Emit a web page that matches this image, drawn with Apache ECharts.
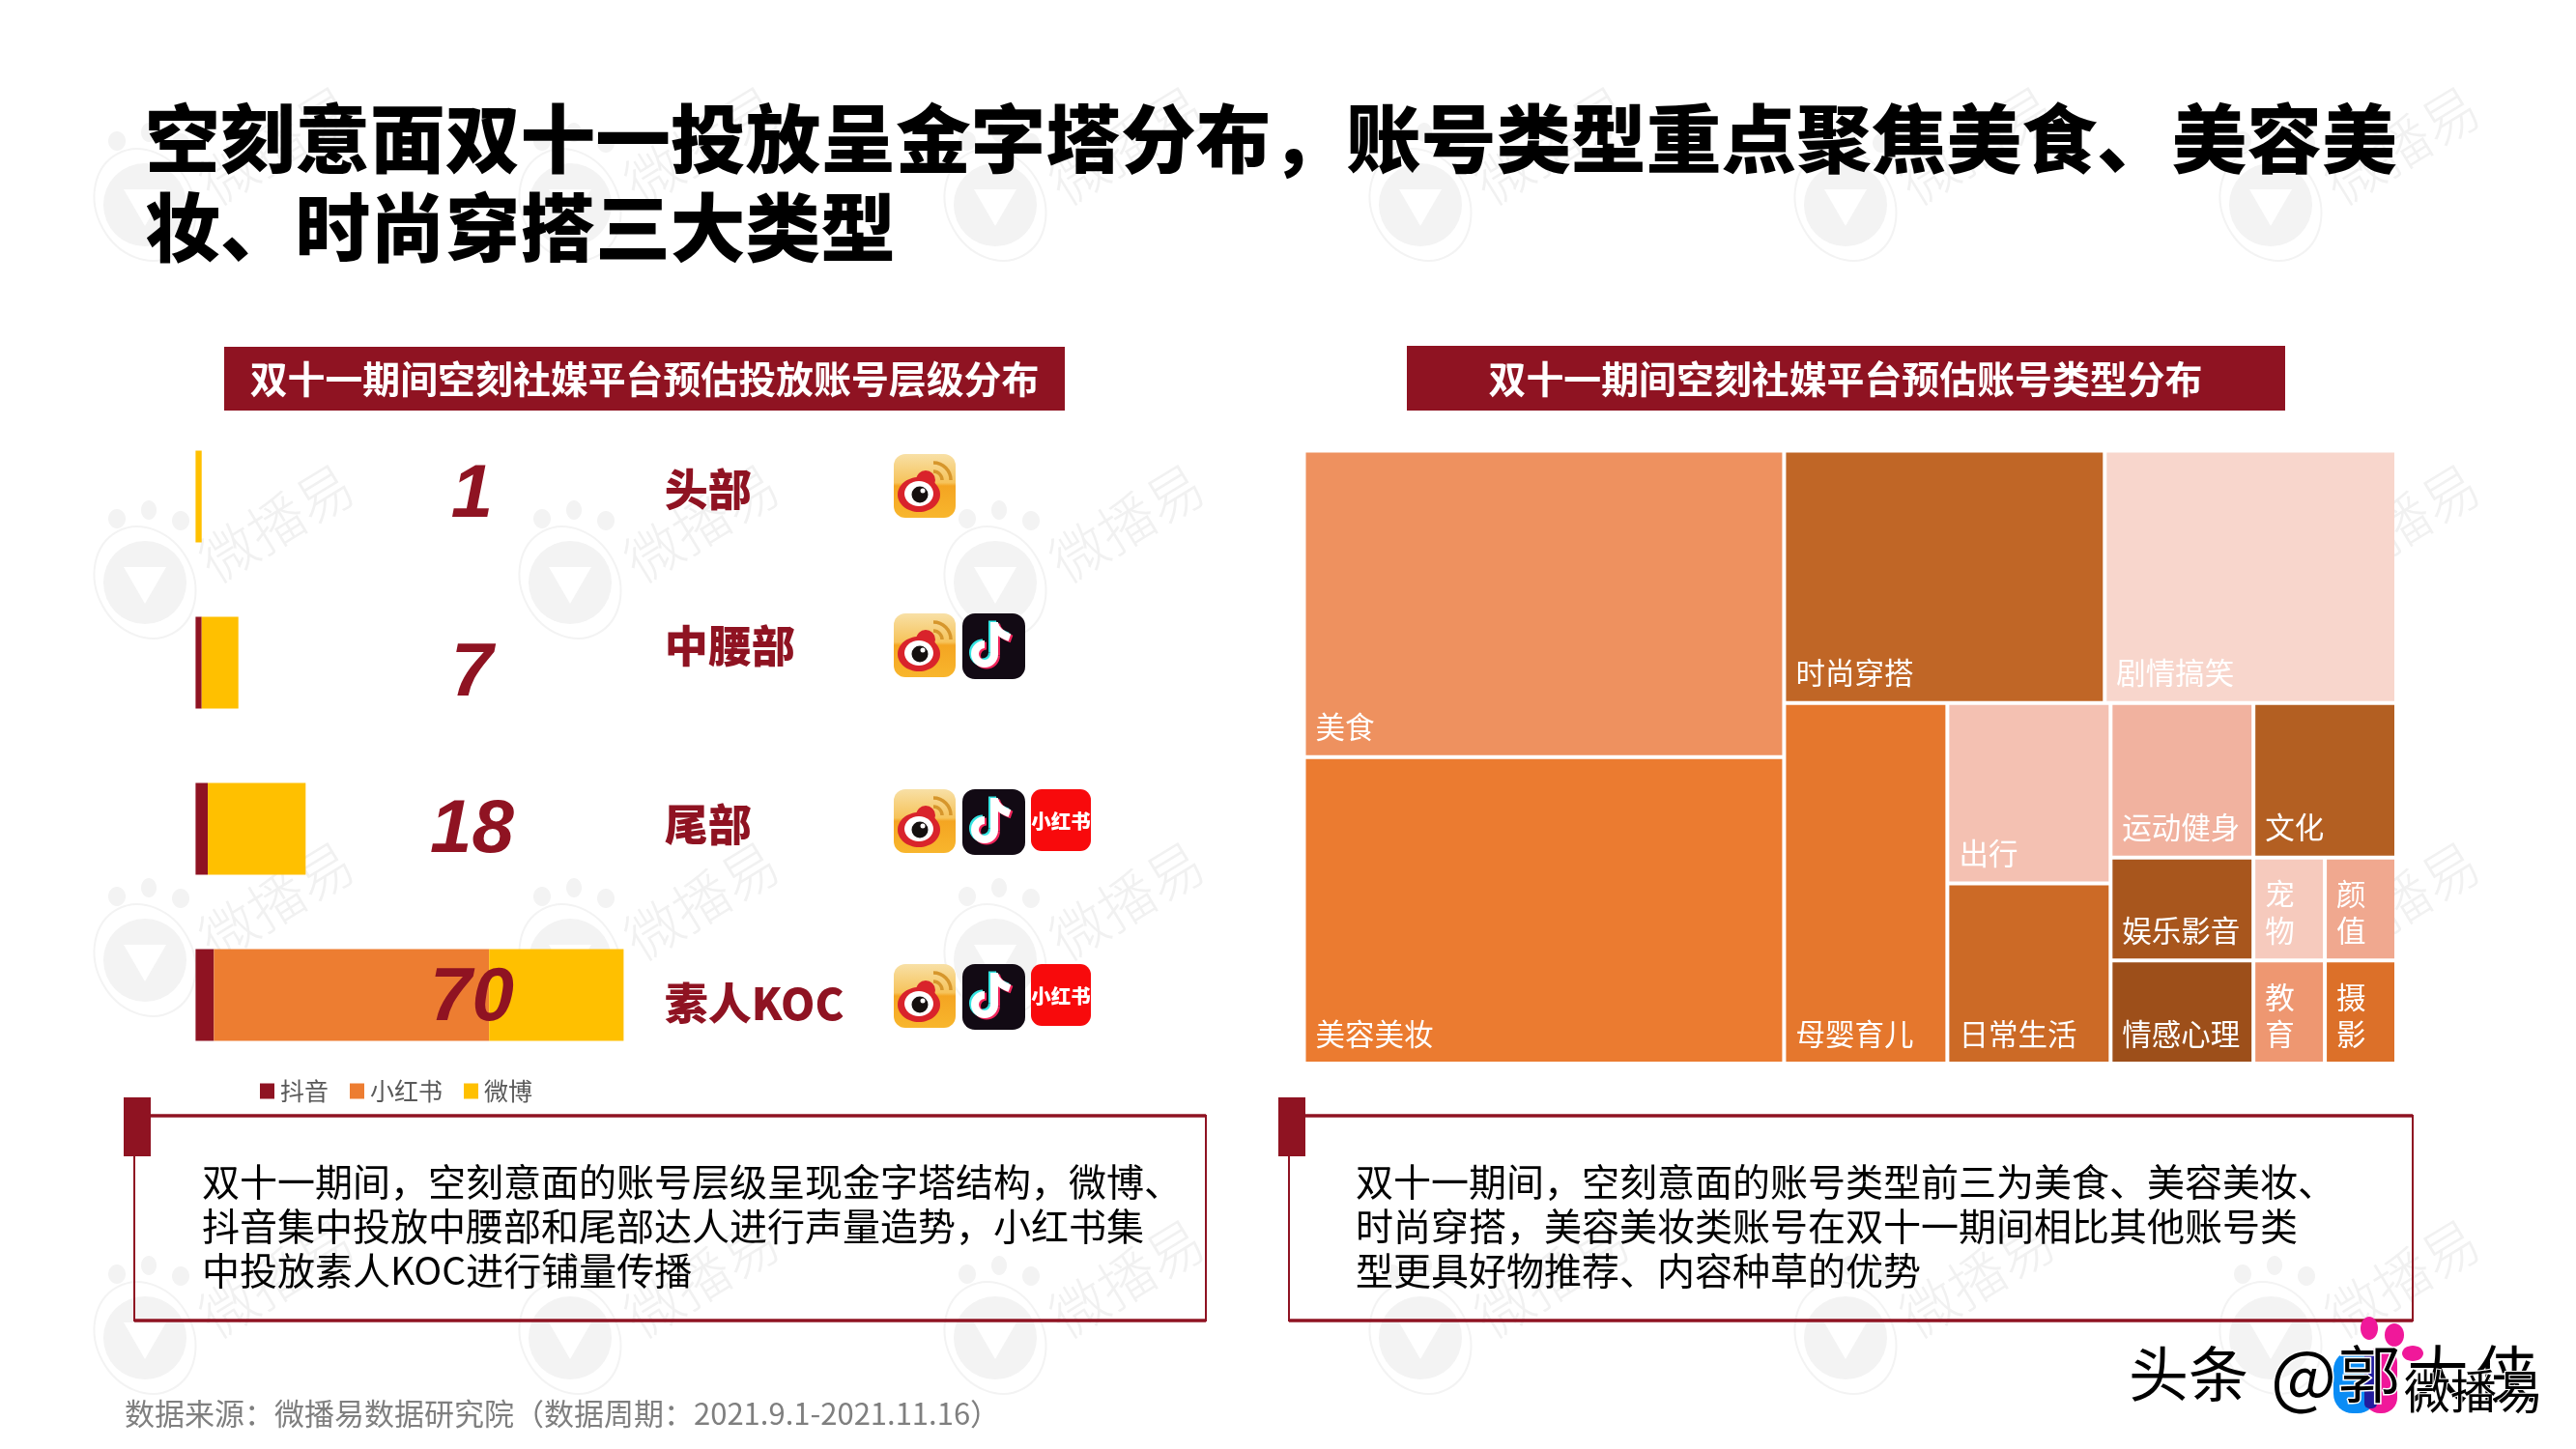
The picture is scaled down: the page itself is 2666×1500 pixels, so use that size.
<!DOCTYPE html>
<html>
<head>
<meta charset="utf-8">
<title>空刻意面双十一投放</title>
<script src="https://cdn.jsdelivr.net/npm/echarts@6/dist/echarts.min.js"></script>
<style>
html,body{margin:0;padding:0;background:#fff;}
#chart{width:2666px;height:1500px;}
</style>
</head>
<body>
<div id="chart"></div>
<script>
// left chart: accounts per tier
const tierNames = ['头部', '中腰部', '尾部', '素人KOC'];
const tierTotals = [1, 7, 18, 70];
const douyinCounts = [0, 1, 2, 3];
const xiaohongshuCounts = [0, 0, 0, 45];
const weiboCounts = [1, 6, 16, 22];
const tierPlatforms = [['weibo'], ['weibo', 'douyin'], ['weibo', 'douyin', 'xhs'], ['weibo', 'douyin', 'xhs']];

// right chart: accounts per type
const typeNames = ['美食', '美容美妆', '时尚穿搭', '剧情搞笑', '母婴育儿', '出行', '日常生活', '运动健身', '文化', '娱乐影音', '情感心理', '宠物', '颜值', '教育', '摄影'];
const typeCounts = [20, 20, 11, 10, 8, 4, 4, 3, 3, 2, 2, 1, 1, 1, 1];
const typeColors = ['#EE915F', '#EB7B30', '#C06626', '#F8D6CC', '#E5772D', '#F4C1B2', '#CC6A26', '#F1B29F', '#B35F22', '#A8561D', '#9D4F1A', '#F6CABD', '#F0A88F', '#EE9771', '#DC7029'];

const DARK_RED = '#8F1322';
const CJK = '"Noto Sans CJK SC", sans-serif';

const chart = echarts.init(document.getElementById('chart'));

function leaf(name) {
    const i = typeNames.indexOf(name);
    return {name: name, value: typeCounts[i], itemStyle: {color: typeColors[i]}};
}
function group() {
    return {name: '', children: Array.prototype.slice.call(arguments)};
}
const typeTree = [
    group(leaf('美食'), leaf('美容美妆')),
    group(
        group(leaf('时尚穿搭'), leaf('剧情搞笑')),
        group(
            leaf('母婴育儿'),
            group(
                group(leaf('出行'), leaf('日常生活')),
                group(
                    group(leaf('运动健身'), leaf('文化')),
                    group(
                        group(leaf('娱乐影音'), leaf('情感心理')),
                        group(
                            group(leaf('宠物'), leaf('颜值')),
                            group(leaf('教育'), leaf('摄影'))
                        )
                    )
                )
            )
        )
    )
];

function text(str, x, y, size, fill, extra) {
    return {
        type: 'text', x: x, y: y,
        style: Object.assign({
            text: str, fontSize: size, fill: fill, fontFamily: CJK,
            align: 'left', verticalAlign: 'middle'
        }, extra || {})
    };
}

function watermark(cx, cy) {
    const c = '#F3F3F3';
    return {
        type: 'group', x: cx, y: cy, children: [
            {type: 'ellipse', shape: {cx: -29, cy: -66, rx: 9, ry: 10}, style: {fill: c}},
            {type: 'ellipse', shape: {cx: 4, cy: -75, rx: 8, ry: 10}, style: {fill: c}},
            {type: 'ellipse', shape: {cx: 37, cy: -64, rx: 9, ry: 10}, style: {fill: c}},
            {type: 'circle', shape: {cx: 0, cy: 0, r: 43}, style: {fill: c}},
            {type: 'ellipse', shape: {cx: 0, cy: 0, rx: 50, ry: 60}, rotation: 0.5, style: {fill: 'none', stroke: c, lineWidth: 2}},
            {type: 'polygon', shape: {points: [[-22, -16], [22, -16], [0, 22]]}, style: {fill: '#fff'}},
            {
                type: 'text', x: 136, y: -62, rotation: 0.55,
                style: {text: '微播易', fontSize: 58, fill: '#F1F1F1', fontFamily: CJK, fontWeight: 300, align: 'center', verticalAlign: 'middle'}
            }
        ]
    };
}

function weiboIcon(x, y) {
    return {
        type: 'group', x: x, y: y, children: [
            {
                type: 'rect', shape: {x: 0, y: 0, width: 64, height: 66, r: 12},
                style: {fill: new echarts.graphic.LinearGradient(0, 0, 0, 1, [
                    {offset: 0, color: '#F8E0A6'}, {offset: 0.45, color: '#F6C35A'},
                    {offset: 0.5, color: '#F4A522'}, {offset: 1, color: '#F8B62D'}
                ])}
            },
            {type: 'arc', shape: {cx: 41, cy: 27, r: 9, startAngle: -Math.PI / 2, endAngle: 0}, style: {fill: 'none', stroke: '#D6962C', lineWidth: 3.5}},
            {type: 'arc', shape: {cx: 41, cy: 27, r: 18, startAngle: -Math.PI / 2, endAngle: 0}, style: {fill: 'none', stroke: '#D6962C', lineWidth: 3.5}},
            {type: 'ellipse', shape: {cx: 26, cy: 42, rx: 22, ry: 18}, style: {fill: '#D9232B'}},
            {type: 'circle', shape: {cx: 33, cy: 27, r: 10}, style: {fill: '#D9232B'}},
            {type: 'ellipse', shape: {cx: 26, cy: 41, rx: 15, ry: 13}, style: {fill: '#fff'}},
            {type: 'circle', shape: {cx: 27, cy: 42, r: 8.5}, style: {fill: '#15100F'}},
            {type: 'circle', shape: {cx: 30, cy: 38, r: 2.5}, style: {fill: '#fff'}}
        ]
    };
}

// note glyph built from strokes, one layer per colour
function noteLayer(dx, dy, color) {
    return {
        type: 'group', x: dx, y: dy, children: [
            {type: 'line', shape: {x1: 33, y1: 9, x2: 33, y2: 42}, style: {stroke: color, lineWidth: 8}},
            {type: 'arc', shape: {cx: 23, cy: 42, r: 10, startAngle: -Math.PI / 2, endAngle: 0, clockwise: false}, style: {fill: 'none', stroke: color, lineWidth: 8}},
            {type: 'bezierCurve', shape: {x1: 33, y1: 10, cpx1: 35, cpy1: 20, x2: 49, y2: 25}, style: {fill: 'none', stroke: color, lineWidth: 8}}
        ]
    };
}
function douyinIcon(x, y) {
    return {
        type: 'group', x: x, y: y, children: [
            {type: 'rect', shape: {x: 0, y: 0, width: 65, height: 68, r: 13}, style: {fill: '#120A14'}},
            noteLayer(-2, -1.5, '#35E5E2'),
            noteLayer(2, 1.5, '#F0245A'),
            noteLayer(0, 0, '#FFFFFF')
        ]
    };
}
function xhsIcon(x, y) {
    return {
        type: 'group', x: x, y: y, children: [
            {type: 'rect', shape: {x: 0, y: 0, width: 62, height: 64, r: 11}, style: {fill: '#F80A0C'}},
            {
                type: 'text', x: 31, y: 33,
                style: {text: '小红书', fontSize: 20.5, fontWeight: 900, fill: '#fff', fontFamily: CJK, align: 'center', verticalAlign: 'middle'}
            }
        ]
    };
}

const iconRowTop = [470, 635, 817, 998];
const iconMakers = {weibo: [weiboIcon, 925], douyin: [douyinIcon, 996], xhs: [xhsIcon, 1067]};

const graphics = [];
[212, 603, 994, 1385].forEach(function (wy) {
    [150, 590, 1030, 1470, 1910, 2350].forEach(function (wx) {
        graphics.push(watermark(wx, wy));
    });
});

graphics.push(text('空刻意面双十一投放呈金字塔分布，账号类型重点聚焦美食、美容美', 150, 143, 77.7, '#000', {fontWeight: 900}));
graphics.push(text('妆、时尚穿搭三大类型', 150, 235, 77.7, '#000', {fontWeight: 900}));

graphics.push({type: 'rect', shape: {x: 232, y: 359, width: 870, height: 66}, style: {fill: DARK_RED}});
graphics.push(text('双十一期间空刻社媒平台预估投放账号层级分布', 667, 392, 38.9, '#fff', {fontWeight: 'bold', align: 'center'}));
graphics.push({type: 'rect', shape: {x: 1456, y: 358, width: 909, height: 67}, style: {fill: DARK_RED}});
graphics.push(text('双十一期间空刻社媒平台预估账号类型分布', 1910, 392, 38.9, '#fff', {fontWeight: 'bold', align: 'center'}));

tierPlatforms.forEach(function (platforms, row) {
    platforms.forEach(function (p) {
        const maker = iconMakers[p];
        graphics.push(maker[0](maker[1], iconRowTop[row]));
    });
});

function noteBox(x, w) {
    return [
        {type: 'rect', shape: {x: x, y: 1155, width: w, height: 212}, style: {fill: 'none', stroke: DARK_RED, lineWidth: 2}},
        {type: 'line', shape: {x1: x, y1: 1155, x2: x + w, y2: 1155}, style: {stroke: DARK_RED, lineWidth: 3.5}},
        {type: 'line', shape: {x1: x, y1: 1367, x2: x + w, y2: 1367}, style: {stroke: DARK_RED, lineWidth: 3.5}},
        {type: 'rect', shape: {x: x - 11, y: 1136, width: 28, height: 61}, style: {fill: DARK_RED}}
    ];
}
noteBox(139, 1109).concat(noteBox(1334, 1163)).forEach(function (g) { graphics.push(g); });

const leftNote = ['双十一期间，空刻意面的账号层级呈现金字塔结构，微博、', '抖音集中投放中腰部和尾部达人进行声量造势，小红书集', '中投放素人KOC进行铺量传播'];
const rightNote = ['双十一期间，空刻意面的账号类型前三为美食、美容美妆、', '时尚穿搭，美容美妆类账号在双十一期间相比其他账号类', '型更具好物推荐、内容种草的优势'];
[1223, 1269, 1315].forEach(function (y, i) {
    graphics.push(text(leftNote[i], 209, y, 39, '#000'));
    graphics.push(text(rightNote[i], 1403, y, 39, '#000'));
});

graphics.push(text('数据来源：微播易数据研究院（数据周期：2021.9.1-2021.11.16）', 129, 1463, 31, '#7F7F7F'));

// site stamp, bottom right corner
[[2452, 1375, 9, 12], [2478, 1382, 10, 12], [2497, 1401, 11, 8]].forEach(function (d) {
    graphics.push({type: 'ellipse', shape: {cx: d[0], cy: d[1], rx: d[2], ry: d[3]}, style: {fill: '#F0189A'}});
});
graphics.push({type: 'rect', shape: {x: 2415, y: 1398, width: 45, height: 65, r: 20}, style: {fill: '#0A8CF5'}});
graphics.push({type: 'rect', shape: {x: 2447, y: 1395, width: 34, height: 68, r: 16}, style: {fill: '#F0189A'}});
graphics.push({type: 'rect', shape: {x: 2447, y: 1398, width: 13, height: 60, r: 5}, style: {fill: '#221C9E'}});
const stampInk = {stroke: '#fff', lineWidth: 3};
graphics.push(text('头条', 2203, 1422, 62, '#000', stampInk));
graphics.push(text('@', 2350, 1424, 72, '#000', stampInk));
graphics.push(text('郭', 2420, 1422, 64, '#000', stampInk));
graphics.push(text('大', 2491, 1422, 64, '#000', stampInk));
graphics.push(text('侠', 2562, 1422, 64, '#000', stampInk));
graphics.push(text('微播易', 2488, 1440, 48, '#000', {stroke: '#fff', lineWidth: 2}));

const AXIS_MAX = 70;
const totalLabelAt = 45.2;
const nameLabelAt = 76.6;
const totalOffsets = [-1, 12, 2, 4];
const nameOffsets = [-7, -17, -4, 9];

function barSeries(name, values, color) {
    return {
        name: name, type: 'bar', stack: 'tier', barWidth: 95,
        data: values, itemStyle: {color: color}, silent: true
    };
}

chart.setOption({
    animation: false,
    backgroundColor: '#fff',
    grid: {left: 202.4, top: 428, width: 443, height: 688},
    xAxis: {type: 'value', min: 0, max: AXIS_MAX, show: false},
    yAxis: {type: 'category', inverse: true, data: tierNames, show: false},
    legend: {
        data: ['抖音', '小红书', '微博'],
        left: 264, top: 1112, itemWidth: 15, itemHeight: 16, itemGap: 22,
        icon: 'rect',
        textStyle: {fontSize: 25, color: '#595959', fontFamily: CJK, padding: [0, 0, 0, 1]}
    },
    graphic: {elements: graphics},
    series: [
        barSeries('抖音', douyinCounts, DARK_RED),
        barSeries('小红书', xiaohongshuCounts, '#ED7D31'),
        barSeries('微博', weiboCounts, '#FFC000'),
        {
            type: 'scatter', symbolSize: 1, clip: false, z: 5, silent: true,
            itemStyle: {color: 'transparent', opacity: 1},
            data: tierTotals.map(function (v, i) {
                return {value: [totalLabelAt, i], name: String(v), label: {offset: [0, totalOffsets[i]]}};
            }),
            label: {
                show: true, position: 'inside', formatter: '{b}',
                fontSize: 78, fontStyle: 'italic', fontWeight: 'bold', color: DARK_RED,
                fontFamily: '"Liberation Sans", sans-serif'
            }
        },
        {
            type: 'scatter', symbolSize: 1, clip: false, z: 5, silent: true,
            itemStyle: {color: 'transparent', opacity: 1},
            data: tierNames.map(function (n, i) {
                return {value: [nameLabelAt, i], name: n, label: {offset: [0, nameOffsets[i]]}};
            }),
            label: {
                show: true, position: 'right', distance: 0, formatter: '{b}',
                fontSize: 45, fontWeight: 900, color: DARK_RED, fontFamily: CJK
            }
        },
        {
            type: 'treemap',
            left: 1351.5, top: 468.5, width: 1126.5, height: 630.5,
            sort: false, squareRatio: 0.95, roam: false, nodeClick: false, silent: true,
            breadcrumb: {show: false},
            visibleMin: 0,
            itemStyle: {gapWidth: 4, borderWidth: 0, borderColor: '#fff'},
            upperLabel: {show: false},
            label: {
                show: true, position: 'insideBottomLeft', padding: [0, 8, 8, 8], distance: 2,
                fontSize: 30.5, lineHeight: 38, color: '#fff', fontFamily: CJK, overflow: 'break'
            },
            data: typeTree
        }
    ]
});
</script>
</body>
</html>
